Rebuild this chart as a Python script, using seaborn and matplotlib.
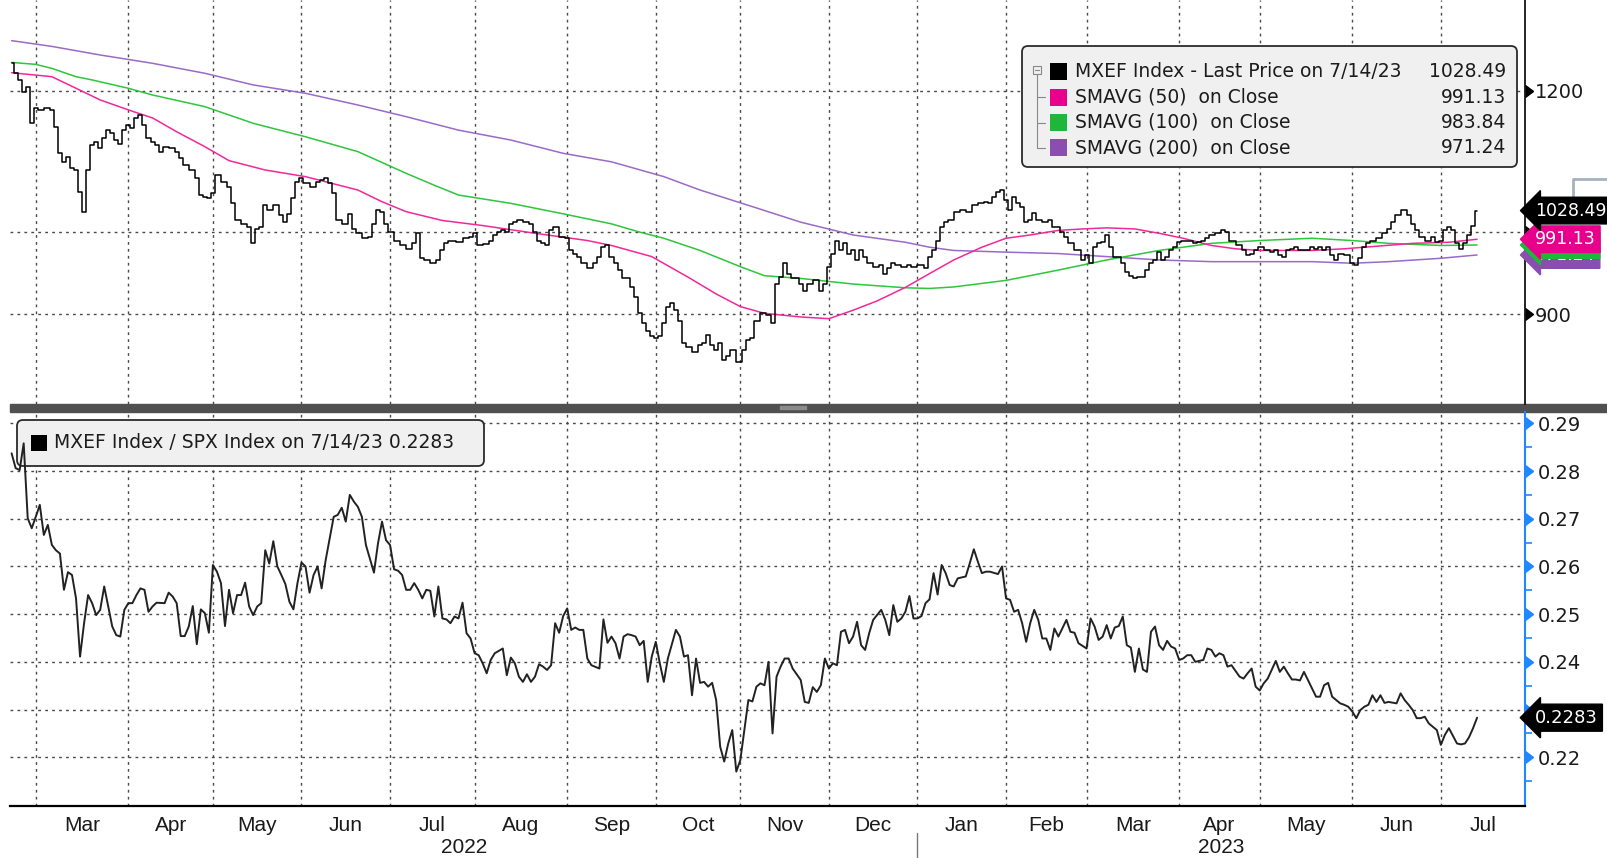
import numpy as np
import pandas as pd
import matplotlib
matplotlib.use("Agg")
import matplotlib.pyplot as plt
import matplotlib.transforms as mtransforms
from matplotlib.patches import FancyBboxPatch, Rectangle
from matplotlib.ticker import FixedLocator, NullLocator
from matplotlib.markers import CARETRIGHTBASE
import seaborn as sns

# MXEF Index last price
price = [
    ("2022-02-21", 1243.6), ("2022-02-22", 1227.7), ("2022-02-23", 1217.2), ("2022-02-24", 1199.0),
    ("2022-02-25", 1206.7), ("2022-02-28", 1151.0), ("2022-03-01", 1173.5), ("2022-03-02", 1171.4),
    ("2022-03-04", 1173.5), ("2022-03-07", 1171.4), ("2022-03-08", 1146.0), ("2022-03-09", 1107.3),
    ("2022-03-10", 1095.0), ("2022-03-11", 1102.5), ("2022-03-14", 1086.1), ("2022-03-15", 1083.7),
    ("2022-03-16", 1053.8), ("2022-03-17", 1027.0), ("2022-03-18", 1083.7), ("2022-03-21", 1119.3),
    ("2022-03-22", 1123.7), ("2022-03-23", 1114.5), ("2022-03-24", 1128.9), ("2022-03-25", 1140.9),
    ("2022-03-28", 1136.0), ("2022-03-29", 1126.0), ("2022-03-30", 1121.2), ("2022-03-31", 1140.9),
    ("2022-04-01", 1148.5), ("2022-04-04", 1143.6), ("2022-04-05", 1159.0), ("2022-04-06", 1164.0),
    ("2022-04-07", 1148.5), ("2022-04-08", 1128.9), ("2022-04-11", 1123.7), ("2022-04-12", 1119.3),
    ("2022-04-13", 1109.7), ("2022-04-14", 1116.8), ("2022-04-18", 1114.5), ("2022-04-19", 1109.7),
    ("2022-04-20", 1100.1), ("2022-04-21", 1090.6), ("2022-04-25", 1083.7), ("2022-04-26", 1072.2),
    ("2022-04-27", 1049.3), ("2022-04-28", 1047.0), ("2022-04-29", 1044.8), ("2022-05-02", 1051.6),
    ("2022-05-03", 1076.8), ("2022-05-05", 1067.0), ("2022-05-06", 1060.2), ("2022-05-09", 1038.1),
    ("2022-05-10", 1015.4), ("2022-05-12", 1011.0), ("2022-05-13", 1006.6), ("2022-05-16", 985.9),
    ("2022-05-17", 1004.4), ("2022-05-18", 1006.6), ("2022-05-19", 1035.9), ("2022-05-20", 1028.6),
    ("2022-05-24", 1035.9), ("2022-05-25", 1022.0), ("2022-05-26", 1013.2), ("2022-05-27", 1024.2),
    ("2022-05-30", 1044.8), ("2022-05-31", 1067.0), ("2022-06-01", 1072.2), ("2022-06-02", 1065.4),
    ("2022-06-06", 1060.2), ("2022-06-07", 1067.0), ("2022-06-08", 1069.4), ("2022-06-09", 1072.2),
    ("2022-06-10", 1065.4), ("2022-06-13", 1051.6), ("2022-06-14", 1015.4), ("2022-06-16", 1011.0),
    ("2022-06-17", 1024.2), ("2022-06-20", 1004.4), ("2022-06-21", 998.8), ("2022-06-23", 992.4),
    ("2022-06-24", 994.5), ("2022-06-27", 1011.0), ("2022-06-28", 1028.6), ("2022-06-29", 1027.0),
    ("2022-06-30", 1011.0), ("2022-07-01", 1000.3), ("2022-07-05", 989.5), ("2022-07-06", 983.2),
    ("2022-07-08", 979.0), ("2022-07-11", 985.9), ("2022-07-12", 998.8), ("2022-07-13", 967.1),
    ("2022-07-14", 965.0), ("2022-07-18", 960.9), ("2022-07-19", 965.0), ("2022-07-20", 976.9),
    ("2022-07-21", 985.9), ("2022-07-22", 989.5), ("2022-07-25", 989.5), ("2022-07-26", 987.0),
    ("2022-07-28", 992.4), ("2022-07-29", 994.5), ("2022-08-01", 998.8), ("2022-08-02", 983.2),
    ("2022-08-04", 985.0), ("2022-08-05", 989.5), ("2022-08-08", 996.6), ("2022-08-09", 1000.3),
    ("2022-08-10", 1002.5), ("2022-08-11", 1000.3), ("2022-08-12", 1011.0), ("2022-08-15", 1013.2),
    ("2022-08-16", 1015.4), ("2022-08-18", 1013.2), ("2022-08-19", 1011.0), ("2022-08-22", 1000.3),
    ("2022-08-23", 989.5), ("2022-08-24", 985.9), ("2022-08-25", 983.2), ("2022-08-26", 1002.5),
    ("2022-08-29", 1006.6), ("2022-08-31", 994.5), ("2022-09-01", 992.4), ("2022-09-02", 976.9),
    ("2022-09-05", 973.0), ("2022-09-06", 969.2), ("2022-09-07", 960.9), ("2022-09-09", 954.7),
    ("2022-09-12", 960.9), ("2022-09-13", 969.2), ("2022-09-14", 981.0), ("2022-09-15", 983.2),
    ("2022-09-16", 969.2), ("2022-09-19", 960.9), ("2022-09-20", 952.5), ("2022-09-21", 942.3),
    ("2022-09-22", 942.3), ("2022-09-23", 932.1), ("2022-09-26", 919.4), ("2022-09-27", 900.8),
    ("2022-09-28", 889.3), ("2022-09-29", 880.0), ("2022-09-30", 874.5), ("2022-10-03", 872.6),
    ("2022-10-04", 874.5), ("2022-10-05", 889.3), ("2022-10-06", 908.7), ("2022-10-07", 912.6),
    ("2022-10-10", 904.4), ("2022-10-11", 892.1), ("2022-10-12", 866.6), ("2022-10-13", 862.8),
    ("2022-10-17", 857.3), ("2022-10-18", 864.7), ("2022-10-19", 866.6), ("2022-10-20", 876.4),
    ("2022-10-21", 864.7), ("2022-10-24", 859.1), ("2022-10-25", 866.6), ("2022-10-26", 848.2),
    ("2022-10-27", 852.8), ("2022-10-28", 859.1), ("2022-11-01", 846.3), ("2022-11-02", 859.1),
    ("2022-11-03", 870.3), ("2022-11-04", 872.6), ("2022-11-07", 892.1), ("2022-11-09", 900.8),
    ("2022-11-10", 898.6), ("2022-11-11", 889.3), ("2022-11-14", 935.5), ("2022-11-15", 943.9),
    ("2022-11-16", 960.9), ("2022-11-17", 948.2), ("2022-11-18", 942.3), ("2022-11-21", 942.3),
    ("2022-11-22", 935.5), ("2022-11-23", 927.4), ("2022-11-24", 935.5), ("2022-11-28", 939.9),
    ("2022-11-29", 927.4), ("2022-11-30", 935.5), ("2022-12-01", 956.7), ("2022-12-02", 973.0),
    ("2022-12-05", 989.5), ("2022-12-06", 976.9), ("2022-12-07", 985.9), ("2022-12-08", 973.0),
    ("2022-12-09", 976.9), ("2022-12-12", 965.0), ("2022-12-13", 976.9), ("2022-12-14", 969.2),
    ("2022-12-15", 960.9), ("2022-12-19", 956.7), ("2022-12-20", 958.8), ("2022-12-21", 948.2),
    ("2022-12-22", 954.7), ("2022-12-23", 960.9), ("2022-12-26", 958.8), ("2022-12-28", 956.7),
    ("2022-12-29", 958.8), ("2022-12-30", 956.7), ("2023-01-03", 958.8), ("2023-01-04", 954.7),
    ("2023-01-05", 969.2), ("2023-01-06", 976.9), ("2023-01-09", 989.5), ("2023-01-10", 1006.6),
    ("2023-01-11", 1013.2), ("2023-01-12", 1015.4), ("2023-01-16", 1027.0), ("2023-01-17", 1028.6),
    ("2023-01-19", 1027.0), ("2023-01-20", 1035.9), ("2023-01-24", 1038.1), ("2023-01-25", 1040.3),
    ("2023-01-26", 1038.1), ("2023-01-27", 1047.0), ("2023-01-30", 1053.8), ("2023-01-31", 1056.1),
    ("2023-02-01", 1042.5), ("2023-02-02", 1028.6), ("2023-02-03", 1047.0), ("2023-02-06", 1038.1),
    ("2023-02-07", 1033.7), ("2023-02-08", 1013.2), ("2023-02-09", 1015.4), ("2023-02-10", 1024.8),
    ("2023-02-13", 1015.4), ("2023-02-15", 1013.2), ("2023-02-16", 1015.4), ("2023-02-17", 1006.6),
    ("2023-02-20", 1006.6), ("2023-02-21", 1000.3), ("2023-02-22", 994.5), ("2023-02-23", 985.9),
    ("2023-02-27", 976.9), ("2023-02-28", 965.0), ("2023-03-01", 970.9), ("2023-03-02", 960.9),
    ("2023-03-03", 981.0), ("2023-03-06", 985.9), ("2023-03-07", 987.3), ("2023-03-08", 996.6),
    ("2023-03-09", 981.0), ("2023-03-10", 969.2), ("2023-03-13", 969.2), ("2023-03-14", 960.9),
    ("2023-03-15", 950.0), ("2023-03-16", 945.6), ("2023-03-17", 942.3), ("2023-03-20", 943.9),
    ("2023-03-21", 943.9), ("2023-03-22", 952.5), ("2023-03-23", 960.9), ("2023-03-24", 965.0),
    ("2023-03-27", 974.8), ("2023-03-28", 965.0), ("2023-03-29", 969.2), ("2023-03-30", 976.9),
    ("2023-03-31", 981.0), ("2023-04-03", 987.3), ("2023-04-04", 989.5), ("2023-04-06", 989.5),
    ("2023-04-07", 985.9), ("2023-04-10", 987.3), ("2023-04-11", 989.5), ("2023-04-12", 992.4),
    ("2023-04-13", 996.6), ("2023-04-17", 998.8), ("2023-04-18", 1002.5), ("2023-04-19", 1000.3),
    ("2023-04-20", 989.5), ("2023-04-24", 983.2), ("2023-04-25", 976.9), ("2023-04-26", 970.9),
    ("2023-04-27", 973.0), ("2023-04-28", 976.9), ("2023-05-01", 981.0), ("2023-05-03", 976.9),
    ("2023-05-04", 974.8), ("2023-05-05", 976.9), ("2023-05-08", 970.9), ("2023-05-09", 969.2),
    ("2023-05-10", 976.9), ("2023-05-11", 979.0), ("2023-05-12", 981.0), ("2023-05-15", 976.9),
    ("2023-05-17", 976.9), ("2023-05-18", 981.0), ("2023-05-19", 979.0), ("2023-05-22", 981.0),
    ("2023-05-23", 976.9), ("2023-05-24", 981.0), ("2023-05-25", 970.9), ("2023-05-26", 965.0),
    ("2023-05-29", 973.0), ("2023-05-31", 970.9), ("2023-06-01", 960.9), ("2023-06-02", 958.8),
    ("2023-06-05", 967.1), ("2023-06-06", 981.0), ("2023-06-07", 985.9), ("2023-06-08", 989.5),
    ("2023-06-12", 992.4), ("2023-06-13", 998.8), ("2023-06-14", 1004.4), ("2023-06-15", 1013.2),
    ("2023-06-16", 1022.0), ("2023-06-20", 1028.6), ("2023-06-21", 1022.0), ("2023-06-22", 1011.0),
    ("2023-06-23", 1002.5), ("2023-06-26", 994.5), ("2023-06-28", 989.5), ("2023-06-29", 994.5),
    ("2023-06-30", 987.3), ("2023-07-03", 989.5), ("2023-07-04", 1002.5), ("2023-07-05", 1006.6),
    ("2023-07-06", 1002.5), ("2023-07-07", 985.9), ("2023-07-10", 979.0), ("2023-07-11", 985.9),
    ("2023-07-12", 996.6), ("2023-07-13", 1008.8), ("2023-07-14", 1028.49),
]

sma50 = [
    ("2022-02-21", 1228.6), ("2022-03-07", 1222.3), ("2022-03-15", 1204.2), ("2022-03-23", 1186.2),
    ("2022-04-04", 1169.0), ("2022-04-11", 1159.0), ("2022-04-19", 1138.5), ("2022-04-28", 1116.8),
    ("2022-05-06", 1096.9), ("2022-05-19", 1083.7), ("2022-06-02", 1074.5), ("2022-06-21", 1056.1),
    ("2022-06-29", 1040.3), ("2022-07-07", 1027.0), ("2022-07-20", 1015.4), ("2022-08-03", 1008.8),
    ("2022-08-22", 998.8), ("2022-09-08", 989.5), ("2022-09-16", 983.2), ("2022-09-30", 969.2),
    ("2022-10-13", 943.9), ("2022-10-24", 923.6), ("2022-11-01", 908.7), ("2022-11-09", 900.8),
    ("2022-11-22", 896.6), ("2022-12-01", 894.6), ("2022-12-09", 904.4), ("2022-12-19", 915.4),
    ("2022-12-28", 931.5), ("2023-01-05", 948.2), ("2023-01-13", 965.0), ("2023-01-24", 981.0),
    ("2023-02-01", 992.4), ("2023-02-09", 996.6), ("2023-02-20", 1002.5), ("2023-02-28", 1004.4),
    ("2023-03-08", 1005.8), ("2023-03-17", 1004.4), ("2023-03-27", 998.8), ("2023-04-04", 992.4),
    ("2023-04-13", 983.2), ("2023-04-21", 979.0), ("2023-05-01", 976.9), ("2023-05-18", 976.9),
    ("2023-05-30", 979.0), ("2023-06-06", 981.0), ("2023-06-22", 985.9), ("2023-07-05", 987.3),
    ("2023-07-14", 991.13),
]

sma100 = [
    ("2022-02-21", 1245.0), ("2022-03-01", 1241.9), ("2022-03-07", 1235.5), ("2022-03-15", 1222.3),
    ("2022-03-21", 1217.2), ("2022-04-01", 1204.2), ("2022-04-11", 1193.8), ("2022-04-28", 1176.0),
    ("2022-05-16", 1151.0), ("2022-06-02", 1131.2), ("2022-06-21", 1109.7), ("2022-07-07", 1079.1),
    ("2022-07-18", 1062.6), ("2022-07-26", 1049.3), ("2022-08-12", 1038.1), ("2022-08-31", 1024.2),
    ("2022-09-16", 1011.0), ("2022-09-27", 1000.3), ("2022-10-05", 992.4), ("2022-10-18", 976.9),
    ("2022-11-01", 956.7), ("2022-11-09", 945.6), ("2022-11-22", 942.3), ("2022-12-09", 935.5),
    ("2022-12-28", 931.0), ("2023-01-05", 930.2), ("2023-01-13", 932.0), ("2023-02-01", 939.9),
    ("2023-02-20", 952.5), ("2023-03-08", 965.0), ("2023-03-27", 976.9), ("2023-04-13", 985.9),
    ("2023-05-01", 989.5), ("2023-05-18", 992.4), ("2023-06-01", 989.5), ("2023-06-14", 985.9),
    ("2023-07-03", 983.2), ("2023-07-14", 983.84),
]

sma200 = [
    ("2022-02-21", 1280.5), ("2022-03-07", 1271.0), ("2022-03-23", 1257.0), ("2022-04-11", 1243.6),
    ("2022-04-28", 1227.7), ("2022-05-16", 1209.4), ("2022-06-02", 1196.4), ("2022-06-21", 1178.5),
    ("2022-07-07", 1160.9), ("2022-07-26", 1140.9), ("2022-08-12", 1126.4), ("2022-08-31", 1107.3),
    ("2022-09-16", 1095.2), ("2022-10-05", 1074.5), ("2022-10-18", 1056.1), ("2022-11-04", 1033.7),
    ("2022-11-22", 1013.2), ("2022-12-09", 996.6), ("2022-12-28", 987.3), ("2023-01-05", 981.0),
    ("2023-01-13", 976.9), ("2023-02-01", 974.8), ("2023-02-20", 973.0), ("2023-03-08", 969.2),
    ("2023-03-27", 965.0), ("2023-04-13", 962.9), ("2023-05-01", 962.9), ("2023-05-18", 962.9),
    ("2023-06-01", 960.9), ("2023-06-14", 962.9), ("2023-07-03", 967.1), ("2023-07-14", 971.24),
]

# MXEF Index / SPX Index
ratio = [
    ("2022-02-21", .2837), ("2022-02-22", .2806), ("2022-02-23", .2802), ("2022-02-24", .2858),
    ("2022-02-25", .2701), ("2022-02-28", .2680), ("2022-03-01", .2704), ("2022-03-02", .2729),
    ("2022-03-03", .2666), ("2022-03-04", .2687), ("2022-03-07", .2645), ("2022-03-08", .2634),
    ("2022-03-09", .2627), ("2022-03-10", .2551), ("2022-03-11", .2588), ("2022-03-14", .2582),
    ("2022-03-15", .2533), ("2022-03-16", .2411), ("2022-03-17", .2481), ("2022-03-18", .2540),
    ("2022-03-21", .2523), ("2022-03-22", .2498), ("2022-03-23", .2509), ("2022-03-24", .2558),
    ("2022-03-25", .2516), ("2022-03-28", .2474), ("2022-03-29", .2456), ("2022-03-30", .2453),
    ("2022-03-31", .2509), ("2022-04-01", .2523), ("2022-04-04", .2523), ("2022-04-05", .2540),
    ("2022-04-06", .2554), ("2022-04-07", .2551), ("2022-04-08", .2505), ("2022-04-11", .2516),
    ("2022-04-12", .2524), ("2022-04-14", .2523), ("2022-04-15", .2545), ("2022-04-18", .2537),
    ("2022-04-19", .2523), ("2022-04-20", .2454), ("2022-04-21", .2454), ("2022-04-22", .2474),
    ("2022-04-25", .2517), ("2022-04-26", .2437), ("2022-04-27", .2510), ("2022-04-28", .2502),
    ("2022-04-29", .2461), ("2022-05-02", .2603), ("2022-05-03", .2589), ("2022-05-04", .2565),
    ("2022-05-05", .2475), ("2022-05-06", .2551), ("2022-05-09", .2502), ("2022-05-10", .2540),
    ("2022-05-11", .2540), ("2022-05-12", .2566), ("2022-05-13", .2516), ("2022-05-16", .2498),
    ("2022-05-17", .2516), ("2022-05-18", .2523), ("2022-05-19", .2634), ("2022-05-20", .2606),
    ("2022-05-23", .2653), ("2022-05-24", .2600), ("2022-05-25", .2582), ("2022-05-26", .2563),
    ("2022-05-27", .2526), ("2022-05-30", .2510), ("2022-05-31", .2565), ("2022-06-01", .2608),
    ("2022-06-02", .2600), ("2022-06-03", .2545), ("2022-06-06", .2582), ("2022-06-07", .2600),
    ("2022-06-08", .2554), ("2022-06-09", .2613), ("2022-06-13", .2704), ("2022-06-14", .2708),
    ("2022-06-15", .2723), ("2022-06-16", .2694), ("2022-06-17", .2750), ("2022-06-20", .2736),
    ("2022-06-21", .2725), ("2022-06-22", .2704), ("2022-06-23", .2645), ("2022-06-27", .2587),
    ("2022-06-28", .2648), ("2022-06-29", .2694), ("2022-06-30", .2655), ("2022-07-01", .2645),
    ("2022-07-04", .2594), ("2022-07-05", .2591), ("2022-07-06", .2582), ("2022-07-07", .2551),
    ("2022-07-08", .2551), ("2022-07-11", .2565), ("2022-07-12", .2551), ("2022-07-13", .2533),
    ("2022-07-14", .2551), ("2022-07-15", .2549), ("2022-07-18", .2495), ("2022-07-19", .2558),
    ("2022-07-20", .2491), ("2022-07-21", .2489), ("2022-07-22", .2481), ("2022-07-25", .2495),
    ("2022-07-26", .2491), ("2022-07-27", .2524), ("2022-07-28", .2460), ("2022-07-29", .2449),
    ("2022-08-01", .2418), ("2022-08-02", .2414), ("2022-08-03", .2397), ("2022-08-04", .2376),
    ("2022-08-05", .2404), ("2022-08-08", .2418), ("2022-08-10", .2428), ("2022-08-11", .2372),
    ("2022-08-12", .2409), ("2022-08-15", .2397), ("2022-08-16", .2369), ("2022-08-17", .2358),
    ("2022-08-18", .2374), ("2022-08-19", .2358), ("2022-08-22", .2369), ("2022-08-23", .2395),
    ("2022-08-24", .2390), ("2022-08-25", .2383), ("2022-08-26", .2393), ("2022-08-29", .2481),
    ("2022-08-30", .2461), ("2022-08-31", .2496), ("2022-09-01", .2512), ("2022-09-02", .2467),
    ("2022-09-05", .2472), ("2022-09-06", .2467), ("2022-09-07", .2467), ("2022-09-08", .2407),
    ("2022-09-09", .2393), ("2022-09-13", .2386), ("2022-09-14", .2489), ("2022-09-15", .2440),
    ("2022-09-16", .2453), ("2022-09-19", .2439), ("2022-09-20", .2407), ("2022-09-21", .2453),
    ("2022-09-22", .2458), ("2022-09-23", .2456), ("2022-09-26", .2453), ("2022-09-27", .2435),
    ("2022-09-28", .2444), ("2022-09-29", .2358), ("2022-09-30", .2411), ("2022-10-03", .2442),
    ("2022-10-04", .2397), ("2022-10-05", .2358), ("2022-10-06", .2407), ("2022-10-10", .2467),
    ("2022-10-11", .2453), ("2022-10-12", .2411), ("2022-10-13", .2414), ("2022-10-14", .2330),
    ("2022-10-17", .2407), ("2022-10-18", .2356), ("2022-10-19", .2358), ("2022-10-20", .2348),
    ("2022-10-21", .2356), ("2022-10-24", .2320), ("2022-10-25", .2222), ("2022-10-26", .2191),
    ("2022-10-27", .2229), ("2022-10-28", .2257), ("2022-10-31", .2170), ("2022-11-01", .2194),
    ("2022-11-02", .2257), ("2022-11-03", .2320), ("2022-11-04", .2317), ("2022-11-07", .2348),
    ("2022-11-08", .2355), ("2022-11-09", .2351), ("2022-11-10", .2400), ("2022-11-11", .2250),
    ("2022-11-14", .2369), ("2022-11-15", .2390), ("2022-11-16", .2407), ("2022-11-17", .2407),
    ("2022-11-18", .2386), ("2022-11-22", .2362), ("2022-11-23", .2316), ("2022-11-24", .2314),
    ("2022-11-25", .2347), ("2022-11-28", .2337), ("2022-11-29", .2351), ("2022-11-30", .2407),
    ("2022-12-01", .2386), ("2022-12-02", .2397), ("2022-12-05", .2393), ("2022-12-06", .2463),
    ("2022-12-07", .2467), ("2022-12-08", .2439), ("2022-12-09", .2453), ("2022-12-12", .2484),
    ("2022-12-13", .2435), ("2022-12-14", .2425), ("2022-12-15", .2460), ("2022-12-16", .2488),
    ("2022-12-20", .2509), ("2022-12-21", .2488), ("2022-12-22", .2456), ("2022-12-23", .2519),
    ("2022-12-26", .2484), ("2022-12-27", .2491), ("2022-12-28", .2505), ("2022-12-29", .2538),
    ("2022-12-30", .2491), ("2023-01-02", .2491), ("2023-01-03", .2496), ("2023-01-04", .2523),
    ("2023-01-05", .2531), ("2023-01-06", .2586), ("2023-01-09", .2541), ("2023-01-10", .2603),
    ("2023-01-11", .2586), ("2023-01-12", .2561), ("2023-01-13", .2558), ("2023-01-16", .2575),
    ("2023-01-18", .2579), ("2023-01-19", .2607), ("2023-01-20", .2636), ("2023-01-23", .2610),
    ("2023-01-24", .2586), ("2023-01-25", .2589), ("2023-01-26", .2589), ("2023-01-30", .2584),
    ("2023-01-31", .2600), ("2023-02-01", .2533), ("2023-02-02", .2530), ("2023-02-03", .2505),
    ("2023-02-06", .2509), ("2023-02-07", .2481), ("2023-02-08", .2442), ("2023-02-09", .2481),
    ("2023-02-10", .2509), ("2023-02-13", .2488), ("2023-02-14", .2449), ("2023-02-15", .2449),
    ("2023-02-16", .2425), ("2023-02-17", .2470), ("2023-02-20", .2453), ("2023-02-22", .2488),
    ("2023-02-23", .2463), ("2023-02-24", .2461), ("2023-02-27", .2439), ("2023-03-01", .2428),
    ("2023-03-02", .2491), ("2023-03-03", .2474), ("2023-03-06", .2446), ("2023-03-07", .2453),
    ("2023-03-08", .2477), ("2023-03-09", .2449), ("2023-03-10", .2472), ("2023-03-13", .2475),
    ("2023-03-14", .2495), ("2023-03-15", .2435), ("2023-03-16", .2430), ("2023-03-17", .2379),
    ("2023-03-20", .2428), ("2023-03-21", .2384), ("2023-03-22", .2379), ("2023-03-23", .2463),
    ("2023-03-24", .2474), ("2023-03-27", .2435), ("2023-03-28", .2425), ("2023-03-29", .2444),
    ("2023-03-30", .2432), ("2023-03-31", .2428), ("2023-04-03", .2404), ("2023-04-04", .2407),
    ("2023-04-05", .2414), ("2023-04-06", .2414), ("2023-04-07", .2400), ("2023-04-10", .2402),
    ("2023-04-11", .2404), ("2023-04-12", .2428), ("2023-04-13", .2425), ("2023-04-14", .2411),
    ("2023-04-17", .2418), ("2023-04-18", .2414), ("2023-04-19", .2390), ("2023-04-20", .2393),
    ("2023-04-24", .2369), ("2023-04-25", .2365), ("2023-04-26", .2376), ("2023-04-27", .2386),
    ("2023-04-28", .2348), ("2023-05-01", .2340), ("2023-05-02", .2355), ("2023-05-03", .2365),
    ("2023-05-05", .2402), ("2023-05-08", .2379), ("2023-05-09", .2390), ("2023-05-10", .2376),
    ("2023-05-11", .2363), ("2023-05-12", .2363), ("2023-05-15", .2361), ("2023-05-16", .2379),
    ("2023-05-18", .2344), ("2023-05-19", .2327), ("2023-05-22", .2327), ("2023-05-23", .2351),
    ("2023-05-24", .2356), ("2023-05-25", .2327), ("2023-05-29", .2313), ("2023-05-30", .2310),
    ("2023-05-31", .2306), ("2023-06-01", .2296), ("2023-06-02", .2282), ("2023-06-05", .2299),
    ("2023-06-06", .2306), ("2023-06-07", .2310), ("2023-06-08", .2330), ("2023-06-09", .2316),
    ("2023-06-12", .2330), ("2023-06-13", .2314), ("2023-06-14", .2316), ("2023-06-16", .2313),
    ("2023-06-19", .2334), ("2023-06-20", .2320), ("2023-06-21", .2310), ("2023-06-22", .2299),
    ("2023-06-23", .2282), ("2023-06-26", .2282), ("2023-06-27", .2285), ("2023-06-28", .2271),
    ("2023-06-30", .2257), ("2023-07-03", .2226), ("2023-07-04", .2247), ("2023-07-05", .2261),
    ("2023-07-07", .2229), ("2023-07-10", .2227), ("2023-07-11", .2229), ("2023-07-12", .2242),
    ("2023-07-13", .2261), ("2023-07-14", .2283),
]

legend_labels = ["MXEF Index - Last Price on 7/14/23", "SMAVG (50)  on Close",
                 "SMAVG (100)  on Close", "SMAVG (200)  on Close"]
legend_values = [1028.49, 991.13, 983.84, 971.24]
ratio_label = "MXEF Index / SPX Index on 7/14/23"
ratio_last = 0.2283
price_ticks = [900, 1000, 1200]
price_tick_labels = ["900", "", "1200"]          # 1000 sits under the value tags
ratio_ticks = [0.22, 0.23, 0.24, 0.25, 0.26, 0.27, 0.28, 0.29]
ratio_tick_labels = ["0.22", "", "0.24", "0.25", "0.26", "0.27", "0.28", "0.29"]  # 0.23 under the tag
years = ["2022", "2023"]

line_cols = ["black", "#f2289a", "#2dc63c", "#9a6ac8"]
box_cols = ["black", "#e8008c", "#1db83a", "#8a4db0"]
blue = "#1e88ff"

sns.set_theme(style="white")
plt.rcParams["font.family"] = ["DejaVu Sans"]
narrow = ["Liberation Sans Narrow", "Liberation Sans", "DejaVu Sans"]

ORIGIN = "2022-03-01"


def to_frame(pairs):
    df = pd.DataFrame(pairs, columns=["date", "value"])
    df["session"] = np.busday_count(ORIGIN, df["date"].values.astype("datetime64[D]"))
    return df


W, H = 1607, 858
fig = plt.figure(figsize=(W / 100, H / 100), dpi=100)
fig.patch.set_facecolor("white")
x0, x1 = 10 / W, 1525 / W
ax1 = fig.add_axes([x0, 1 - 404 / H, x1 - x0, 404 / H])
ax2 = fig.add_axes([x0, 1 - 806 / H, x1 - x0, (806 - 411.7) / H])
ov = fig.add_axes([0, 0, 1, 1])
ov.set_xlim(0, W)
ov.set_ylim(H, 0)
ov.axis("off")
ov.set_zorder(0)
ax1.set_zorder(2)
ax2.set_zorder(1)
for ax in (ax1, ax2):
    ax.set_facecolor("none")

XL, XR = -6.4, 369.9

# --- top panel: price and moving averages
series = [price, sma50, sma100, sma200]
for pairs, col, z in zip(series[::-1], line_cols[::-1], [3, 3.2, 3.4, 5]):
    df = to_frame(pairs)
    kw = dict(drawstyle="steps-mid", linewidth=1.1) if pairs is price else dict(linewidth=1.1)
    sns.lineplot(data=df, x="session", y="value", ax=ax1, color=col, estimator=None,
                 sort=False, legend=False, zorder=z, **kw)

# --- bottom panel: ratio
rdf = to_frame(ratio)
sns.lineplot(data=rdf, x="session", y="value", ax=ax2, color="#222222", linewidth=1.4,
             estimator=None, sort=False, legend=False, zorder=5)

ax1.set_yscale("log")
ax1.set_ylim(801.4, 1349.4)
ax2.set_ylim(0.20979, 0.29243)

# months
firsts = pd.date_range("2022-03-01", "2023-08-01", freq="MS")
first_bd = np.busday_offset(firsts.values.astype("datetime64[D]"), 0, roll="forward")
month_s = np.busday_count(ORIGIN, first_bd)
majors = month_s[:-1]
mids = (month_s[:-1] + month_s[1:]) / 2
month_names = [d.strftime("%b") for d in firsts[:-1]]

grid_kw = dict(color="#4a4a4a", linestyle=(0, (2, 3)), linewidth=1.0)
for ax in (ax1, ax2):
    ax.set_xlim(XL, XR)
    ax.set_xticks(majors)
    ax.grid(True, which="major", **grid_kw)
    ax.set_axisbelow(True)
    for s in ("left", "top"):
        ax.spines[s].set_visible(False)
    ax.set_xlabel("")
    ax.set_ylabel("")

ax1.spines["bottom"].set_visible(False)
ax1.spines["right"].set_color("black")
ax1.spines["right"].set_linewidth(1.2)
ax1.tick_params(axis="x", length=0, labelbottom=False)
ax1.yaxis.tick_right()
ax1.yaxis.set_major_locator(FixedLocator(price_ticks))
ax1.yaxis.set_minor_locator(NullLocator())
ax1.set_yticklabels(price_tick_labels)
ax1.tick_params(axis="y", length=0, pad=7, labelsize=14, labelcolor="#1a1a1a")
ax1.plot([1.0] * len(price_ticks), price_ticks, transform=ax1.get_yaxis_transform(),
         ls="none", marker=CARETRIGHTBASE, ms=8, color="black", clip_on=False)

ax2.yaxis.tick_right()
ax2.set_yticks(ratio_ticks)
ax2.set_yticklabels(ratio_tick_labels)
ax2.yaxis.set_minor_locator(FixedLocator([t + 0.005 for t in [0.21] + ratio_ticks[:-1]]))
ax2.tick_params(axis="y", which="major", length=0, pad=9, labelsize=14, labelcolor="#1a1a1a")
ax2.tick_params(axis="y", which="minor", length=5, width=1.2, color=blue)
ax2.spines["right"].set_color(blue)
ax2.spines["right"].set_linewidth(1.5)
ax2.spines["bottom"].set_color("black")
ax2.spines["bottom"].set_linewidth(1.6)
ax2.plot([1.0] * len(ratio_ticks), ratio_ticks, transform=ax2.get_yaxis_transform(),
         ls="none", marker=CARETRIGHTBASE, ms=8, color=blue, clip_on=False)

ax2.tick_params(axis="x", which="major", length=6, width=1.2, color="black",
                direction="out", labelbottom=False)
ax2.set_xticks(mids, minor=True)
ax2.set_xticklabels(month_names, minor=True, fontsize=15, fontfamily=narrow, color="#1a1a1a")
ax2.tick_params(axis="x", which="minor", length=0, pad=7)

jan = np.busday_count(ORIGIN, np.datetime64("2023-01-02"))
xtr = ax2.get_xaxis_transform()
for lab, xc in zip(years, [(XL + jan) / 2, (jan + XR) / 2]):
    ax2.text(xc, -0.104, lab, transform=xtr, ha="center", va="center", fontsize=15,
             fontfamily=narrow, color="#1a1a1a")
ax2.plot([jan, jan], [-0.068, -0.135], transform=xtr, color="#777777", lw=1, clip_on=False)

# --- value tags on the right (stacked like the terminal draws them)
bt1 = mtransforms.blended_transform_factory(ov.transData, ax1.transData)
bt2 = mtransforms.blended_transform_factory(ov.transData, ax2.transData)
for val, col, z in list(zip(legend_values, box_cols, [13, 12, 11, 10]))[::-1]:
    ax1.text(1535, val, f"{val:.2f}", transform=bt1, ha="left", va="center", fontsize=12.5,
             color="white", zorder=z, clip_on=False,
             bbox=dict(boxstyle="larrow,pad=0.25", fc=col, ec=col))
ax2.text(1535, ratio_last, f"{ratio_last:.4f}", transform=bt2, ha="left", va="center",
         fontsize=13, color="white", zorder=12, clip_on=False,
         bbox=dict(boxstyle="larrow,pad=0.25", fc="black", ec="black"))

# --- legends
leg = FancyBboxPatch((1022, 46), 495, 121, boxstyle="round,pad=0,rounding_size=6",
                     fc="#f0f0f0", ec="#2b2b2b", lw=1.3, transform=ov.transData, zorder=8)
ax1.add_artist(leg)
rows = [71.7, 97.4, 122.5, 147.6]
for yc, lab, val, col in zip(rows, legend_labels, legend_values, box_cols):
    ax1.add_artist(Rectangle((1050, yc - 8.5), 17, 17, fc=col, ec="none",
                             transform=ov.transData, zorder=9))
    ax1.text(1075, yc, lab, transform=ov.transData, ha="left", va="center",
             fontsize=13.5, color="#1c1c1c", zorder=9)
    ax1.text(1506, yc, f"{val:.2f}", transform=ov.transData, ha="right", va="center",
             fontsize=13.5, color="#1c1c1c", zorder=9)
ax1.add_artist(Rectangle((1033, 66), 8, 8, fc="#f0f0f0", ec="#888888", lw=0.8,
                         transform=ov.transData, zorder=9))
ax1.plot([1035, 1039], [70, 70], color="#888888", lw=0.8, transform=ov.transData, zorder=9)
ax1.plot([1037, 1037], [74, rows[-1]], color="#888888", lw=0.8, transform=ov.transData, zorder=9)
for yc in rows[1:]:
    ax1.plot([1037, 1045], [yc, yc], color="#888888", lw=0.8, transform=ov.transData, zorder=9)

leg2 = FancyBboxPatch((17, 420), 467, 46, boxstyle="round,pad=0,rounding_size=6",
                      fc="#f0f0f0", ec="#2b2b2b", lw=1.3, transform=ov.transData, zorder=3)
ax2.add_artist(leg2)
ax2.add_artist(Rectangle((31, 435), 16, 16, fc="black", ec="none",
                         transform=ov.transData, zorder=4))
ax2.text(54, 443, f"{ratio_label} {ratio_last:.4f}", transform=ov.transData, ha="left",
         va="center", fontsize=13.5, color="#1c1c1c", zorder=4)

# --- panel divider and corner mark
ov.add_patch(Rectangle((10, 404), W - 10, 7.5, color="#505050"))
ov.add_patch(Rectangle((780, 406), 26, 3, color="#8a8a8a"))
ov.plot([1573, 1573, 1607], [196, 179, 179], color="#a8b0c0", lw=2)

fig.savefig("out.png", dpi=100)
